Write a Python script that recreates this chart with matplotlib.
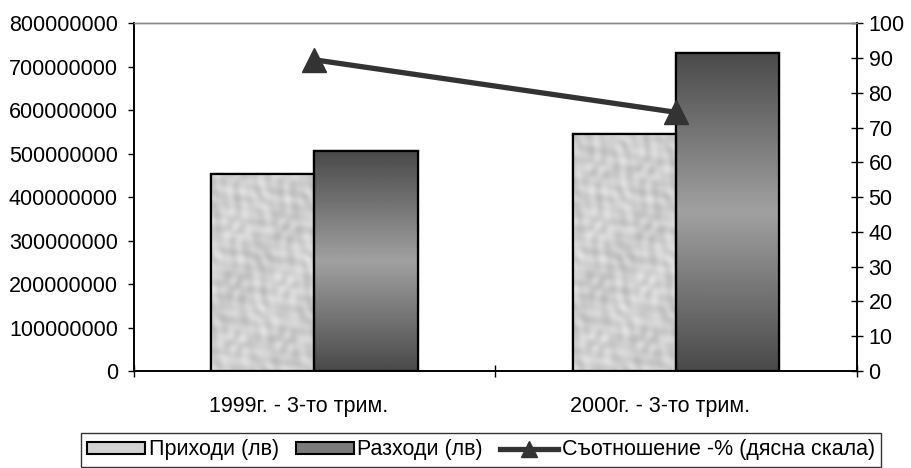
import numpy as np
import matplotlib
matplotlib.use("Agg")
import matplotlib.pyplot as plt
import matplotlib.transforms as mtransforms
from matplotlib.patches import Patch
from matplotlib.lines import Line2D

plt.rcParams['font.family'] = ['Liberation Sans', 'DejaVu Sans']

categories = ["1999г. - 3-то трим.", "2000г. - 3-то трим."]
income = [453e6, 545e6]      # Приходи (лв)
expense = [506e6, 732e6]     # Разходи (лв)
ratio = [89.5, 74.4]         # Съотношение -%
left_ticks = np.arange(0, 800000001, 100000000)
right_ticks = np.arange(0, 101, 10)

fs = 15.5
fig = plt.figure(figsize=(9.11, 4.68), dpi=100)
ax = fig.add_axes([0.1468, 0.2073, 0.7936, 0.7429])
ax2 = ax.twinx()

x = np.arange(len(categories))
w = 1 / 3.5


def texture(h_px, w_px):
    # deterministic bubbly grey texture for the income bars
    yy, xx = np.mgrid[0:h_px, 0:w_px].astype(float)
    z = (np.sin(xx / 5.3 + np.sin(yy / 9.1) * 2) * np.cos(yy / 6.7 + np.sin(xx / 7.9) * 2)
         + 0.5 * np.sin((xx + yy) / 3.1) * np.cos((xx - yy) / 4.3))
    return 0.81 + 0.05 * z


def gradient(n):
    t = np.linspace(0, 1, n)[:, None]
    return 0.29 + 0.34 * (1 - np.abs(2 * t - 1))


for i in x:
    # income bar, textured
    b = ax.bar(i - w / 2, income[i], w, color="#cfcfcf", edgecolor="black", linewidth=1.6, zorder=2)[0]
    hpx = int(income[i] / 800e6 * 348)
    im = ax.imshow(texture(hpx, 104), extent=(i - w, i, 0, income[i]), cmap="gray",
                   vmin=0, vmax=1, aspect="auto", origin="lower", zorder=2.5)
    im.set_clip_path(b)
    ax.bar(i - w / 2, income[i], w, fill=False, edgecolor="black", linewidth=1.6, zorder=3)
    # expense bar, gradient
    b = ax.bar(i + w / 2, expense[i], w, color="#7a7a7a", edgecolor="black", linewidth=1.6, zorder=2)[0]
    im = ax.imshow(gradient(200), extent=(i, i + w, 0, expense[i]), cmap="gray",
                   vmin=0, vmax=1, aspect="auto", origin="lower", zorder=2.5)
    im.set_clip_path(b)
    ax.bar(i + w / 2, expense[i], w, fill=False, edgecolor="black", linewidth=1.6, zorder=3)

ax2.plot(x, ratio, color="#333333", lw=3.8, marker="^", ms=17, zorder=5)

ax.set_xlim(-0.5, 1.5)
ax.set_ylim(0, 800e6)
ax2.set_ylim(0, 100)

ax.set_yticks(left_ticks)
ax.set_yticklabels([str(v) for v in left_ticks], fontsize=fs)
ax2.set_yticks(right_ticks)
ax2.set_yticklabels([str(v) for v in right_ticks], fontsize=fs)

ax.set_xticks([-0.5, 0.5, 1.5], minor=True)
ax.set_xticks(x)
ax.set_xticklabels(categories, fontsize=fs)
ax.tick_params(axis="x", which="major", length=0, pad=18)
ax.tick_params(axis="x", which="minor", direction="inout", length=9, width=1)
offset = mtransforms.ScaledTranslation(-16 / 100, 0, fig.dpi_scale_trans)
for lbl in ax.get_xticklabels():
    lbl.set_transform(lbl.get_transform() + offset)

ax.tick_params(axis="y", direction="out", length=4.5, width=1, pad=7)
ax2.tick_params(axis="y", direction="inout", length=9, width=1, pad=4)

for a in (ax, ax2):
    a.spines["top"].set_color("#888888")
    a.spines["top"].set_linewidth(1)
    for s in ("left", "right", "bottom"):
        a.spines[s].set_color("black")
        a.spines[s].set_linewidth(1.2)
ax.set_facecolor("none")

handles = [
    Patch(facecolor="#d2d2d2", edgecolor="black", linewidth=1.5),
    Patch(facecolor="#7a7a7a", edgecolor="black", linewidth=1.5),
    Line2D([], [], color="#333333", lw=3.8, marker="^", ms=12),
]
labels = ["Приходи (лв)", "Разходи (лв)", "Съотношение -% (дясна скала)"]
leg = fig.legend(handles, labels, loc="upper center", bbox_to_anchor=(481 / 911, 1 - 433 / 468),
                 ncol=3, fontsize=fs, frameon=True, fancybox=False, handlelength=2.7,
                 handleheight=0.5, handletextpad=0.15, columnspacing=0.8, borderpad=0.3,
                 borderaxespad=0)
leg.get_frame().set_edgecolor("black")
leg.get_frame().set_linewidth(1)

fig.savefig("out.png", dpi=100)
